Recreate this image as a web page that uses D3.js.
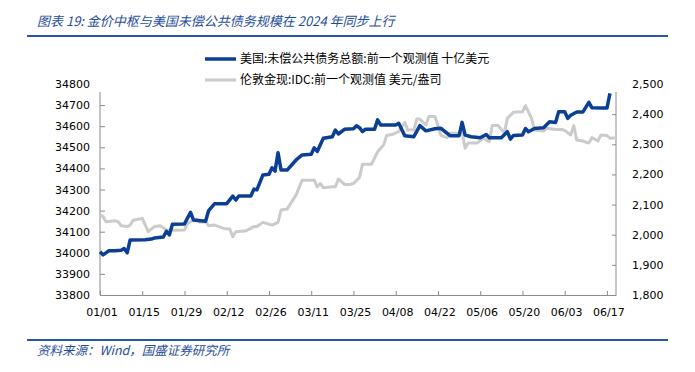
<!DOCTYPE html>
<html lang="zh">
	<head>
		<meta charset="utf-8">
		<title>图表 19</title>
		<script type="text/javascript" src="https://cdn.jsdelivr.net/npm/d3@7"></script>
		<style type="text/css">
			body { margin: 0; background: #fff; }
		</style>
	</head>
	<body>
		<script type="text/javascript">

			var titleText = "图表 19:  金价中枢与美国未偿公共债务规模在 2024 年同步上行";
			var sourceText = "资料来源：Wind，国盛证券研究所";
			var debtName = "美国:未偿公共债务总额:前一个观测值 十亿美元";
			var goldName = "伦敦金现:IDC:前一个观测值 美元/盎司";

			// 美国未偿公共债务 (十亿美元), 左轴
			var debtDates = ["01-01","01-02","01-04","01-06","01-08","01-09","01-10","01-11","01-16","01-18",
				"01-19","01-22","01-23","01-24","01-25","01-29","01-31","02-01","02-05","02-06",
				"02-08","02-12","02-14","02-15","02-16","02-20","02-21","02-22","02-24","02-26",
				"02-27","02-28","02-29","03-01","03-03","03-06","03-08","03-11","03-12","03-13",
				"03-15","03-18","03-19","03-20","03-22","03-25","03-26","03-27","03-28","03-29",
				"04-01","04-02","04-03","04-08","04-09","04-11","04-14","04-16","04-18","04-21",
				"04-23","04-26","04-29","04-30","05-01","05-03","05-06","05-08","05-09","05-13",
				"05-15","05-16","05-17","05-20","05-21","05-22","05-24","05-27","05-29","05-31",
				"06-01","06-03","06-04","06-05","06-07","06-09","06-11","06-12","06-16","06-17","06-18"];
			var debtValues = [34005,33990,34010,34010,34012,34020,34000,34061,34062,34065,
				34070,34075,34102,34085,34135,34137,34192,34155,34150,34200,
				34233,34233,34269,34250,34269,34269,34302,34298,34369,34372,
				34403,34387,34474,34392,34392,34440,34464,34467,34498,34480,
				34543,34550,34582,34563,34585,34588,34602,34593,34574,34586,
				34586,34630,34606,34606,34614,34555,34550,34603,34578,34588,
				34590,34555,34555,34618,34558,34550,34545,34561,34545,34545,
				34574,34539,34556,34558,34589,34574,34589,34593,34621,34618,
				34669,34669,34637,34652,34667,34667,34713,34688,34686,34686,34756];

			// 伦敦金现 (美元/盎司), 右轴
			var goldDates = ["01-01","01-02","01-03","01-06","01-07","01-08","01-10","01-11","01-12","01-15",
				"01-17","01-19","01-21","01-23","01-26","01-29","01-30","02-02","02-03","02-05",
				"02-06","02-08","02-11","02-13","02-14","02-15","02-18","02-20","02-21","02-22",
				"02-24","02-27","02-29","03-01","03-03","03-06","03-08","03-12","03-13","03-14",
				"03-15","03-18","03-19","03-20","03-22","03-24","03-25","03-27","03-28","03-31",
				"04-02","04-04","04-05","04-07","04-09","04-11","04-12","04-14","04-15","04-16",
				"04-18","04-19","04-21","04-23","04-25","04-26","04-29","04-30","05-01","05-02",
				"05-05","05-07","05-09","05-10","05-12","05-14","05-15","05-17","05-20","05-21",
				"05-23","05-24","05-27","05-28","05-31","06-02","06-03","06-05","06-06","06-07",
				"06-09","06-11","06-12","06-14","06-15","06-17","06-18","06-20"];
			var goldValues = [2065,2060,2043,2046,2043,2030,2027,2032,2048,2054,
				2010,2027,2030,2016,2015,2016,2038,2052,2041,2043,
				2030,2032,2021,2019,1993,2010,2012,2021,2027,2027,
				2041,2032,2041,2082,2085,2132,2181,2181,2159,2170,
				2156,2159,2159,2185,2167,2167,2170,2190,2234,2234,
				2275,2298,2329,2333,2342,2373,2347,2347,2384,2384,
				2364,2392,2392,2329,2322,2337,2337,2342,2287,2304,
				2304,2320,2309,2362,2362,2337,2386,2406,2408,2428,
				2386,2347,2344,2353,2349,2349,2346,2331,2362,2314,
				2311,2304,2322,2311,2331,2329,2320,2322];

			var leftTicks = [33800,33900,34000,34100,34200,34300,34400,34500,34600,34700,34800];
			var rightTicks = [1800,1900,2000,2100,2200,2300,2400,2500];
			var xTickDates = ["01-01","01-15","01-29","02-12","02-26","03-11","03-25","04-08","04-22","05-06","05-20","06-03","06-17"];

			var w = 695;
			var h = 372;
			var plotLeft = 100, plotRight = 616, plotTop = 84, plotBottom = 295;

			var parse = d3.timeParse("%Y-%m-%d");
			var toDate = function(s) { return parse("2024-" + s); };
			var formatTime = d3.timeFormat("%m/%d");

			var debt = debtDates.map(function(d, i) { return { date: toDate(d), value: debtValues[i] }; });
			var gold = goldDates.map(function(d, i) { return { date: toDate(d), value: goldValues[i] }; });

			var xScale = d3.scaleTime()
						   .domain([toDate("01-01"), toDate("06-20")])
						   .range([plotLeft, plotRight]);

			var yLeft = d3.scaleLinear()
						  .domain([33800, 34800])
						  .range([plotBottom, plotTop]);

			var yRight = d3.scaleLinear()
						   .domain([1800, 2500])
						   .range([plotBottom, plotTop]);

			var svg = d3.select("body")
						.append("svg")
						.attr("width", w)
						.attr("height", h);

			var blue = "#1f4e9c";
			var cjk = "'Noto Sans CJK SC', sans-serif";
			var axisFont = "'DejaVu Sans', sans-serif";

			// title and rules
			svg.append("text")
			   .attr("x", 37)
			   .attr("y", 26)
			   .attr("font-family", cjk)
			   .attr("font-style", "italic")
			   .attr("font-size", "13px")
			   .attr("fill", blue)
			   .text(titleText);

			svg.append("line")
			   .attr("x1", 27).attr("x2", 668)
			   .attr("y1", 36).attr("y2", 36)
			   .attr("stroke", "#2656a6")
			   .attr("stroke-width", 2);

			svg.append("line")
			   .attr("x1", 27).attr("x2", 668)
			   .attr("y1", 340).attr("y2", 340)
			   .attr("stroke", "#2656a6")
			   .attr("stroke-width", 2);

			svg.append("text")
			   .attr("x", 37)
			   .attr("y", 355)
			   .attr("font-family", cjk)
			   .attr("font-style", "italic")
			   .attr("font-size", "12.5px")
			   .attr("fill", blue)
			   .text(sourceText);

			// axes
			var axisColor = "#8c8c8c";

			var gLeft = svg.append("g")
						   .attr("transform", "translate(" + plotLeft + ",0)")
						   .call(d3.axisLeft(yLeft).tickValues(leftTicks).tickSize(-5).tickSizeOuter(0).tickPadding(10)
								 .tickFormat(d3.format("d")));

			var gRight = svg.append("g")
							.attr("transform", "translate(" + plotRight + ",0)")
							.call(d3.axisRight(yRight).tickValues(rightTicks).tickSize(-4).tickSizeOuter(0).tickPadding(16)
								  .tickFormat(d3.format(",")));

			var gBottom = svg.append("g")
							 .attr("transform", "translate(0," + plotBottom + ")")
							 .call(d3.axisBottom(xScale).tickValues(xTickDates.map(toDate)).tickSize(-4).tickSizeOuter(0)
								   .tickPadding(13).tickFormat(formatTime));

			[gLeft, gRight, gBottom].forEach(function(g) {
				g.select(".domain").attr("stroke", axisColor);
				g.selectAll(".tick line").attr("stroke", axisColor);
				g.selectAll(".tick text")
				 .attr("font-family", axisFont)
				 .attr("font-size", "11px")
				 .attr("fill", "#000");
			});

			// the vertical axis lines start a little below the top label
			gLeft.select(".domain").attr("d", "M0," + (plotTop + 8) + "V" + plotBottom);
			gRight.select(".domain").attr("d", "M0," + (plotTop + 8) + "V" + plotBottom);
			gLeft.selectAll(".tick").filter(function(d) { return d === 34800; }).select("line").remove();
			gRight.selectAll(".tick").filter(function(d) { return d === 2500; }).select("line").remove();
			gBottom.selectAll(".tick text").attr("dx", 1.5);

			// lines
			var goldLine = d3.line()
							 .x(function(d) { return xScale(d.date); })
							 .y(function(d) { return yRight(d.value); });

			var debtLine = d3.line()
							 .x(function(d) { return xScale(d.date); })
							 .y(function(d) { return yLeft(d.value); });

			svg.append("path")
			   .datum(gold)
			   .attr("d", goldLine)
			   .attr("fill", "none")
			   .attr("stroke", "#cbcbcb")
			   .attr("stroke-width", 3)
			   .attr("stroke-linejoin", "round");

			svg.append("path")
			   .datum(debt)
			   .attr("d", debtLine)
			   .attr("fill", "none")
			   .attr("stroke", "#0b3f95")
			   .attr("stroke-width", 3.5)
			   .attr("stroke-linejoin", "round");

			// legend
			var legend = [
				{ name: debtName, color: "#0b3f95", width: 3.5, y: 59 },
				{ name: goldName, color: "#cbcbcb", width: 3, y: 80 }
			];

			var lg = svg.selectAll("g.legend")
						.data(legend)
						.enter()
						.append("g")
						.attr("class", "legend")
						.attr("transform", function(d) { return "translate(205," + d.y + ")"; });

			lg.append("line")
			  .attr("x1", 0).attr("x2", 31)
			  .attr("stroke", function(d) { return d.color; })
			  .attr("stroke-width", function(d) { return d.width; });

			lg.append("text")
			  .attr("x", 35)
			  .attr("dy", "0.35em")
			  .attr("font-family", cjk)
			  .attr("font-size", "12px")
			  .attr("fill", "#000")
			  .text(function(d) { return d.name; });

		</script>
	</body>
</html>
